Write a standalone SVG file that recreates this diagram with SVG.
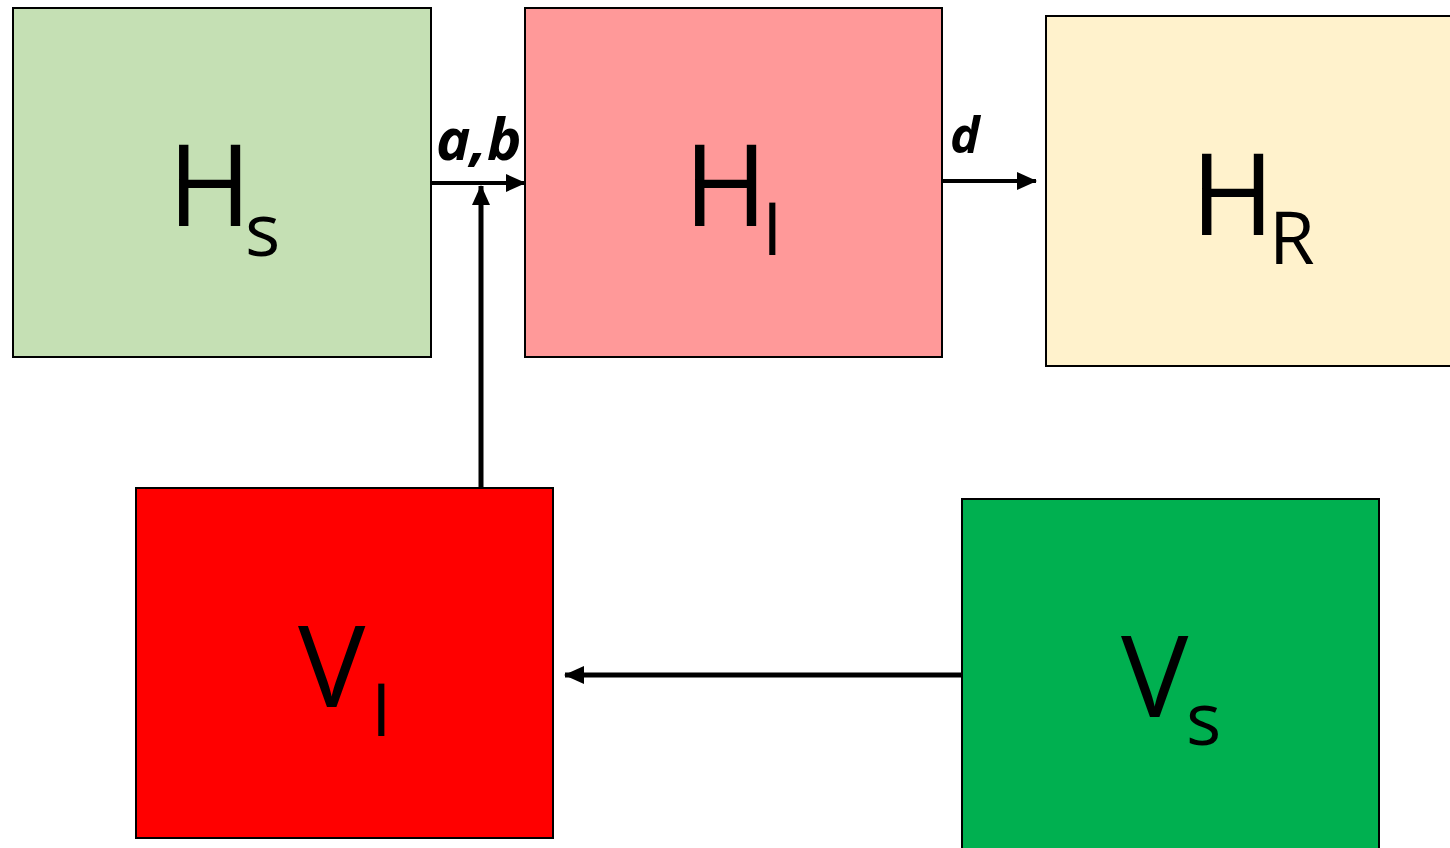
<svg xmlns="http://www.w3.org/2000/svg" width="1450" height="848" viewBox="0 0 1450 848">
  <style>
    .box { stroke: #000; stroke-width: 2; }
    .main { font-family: "Open Sans", "Liberation Sans", sans-serif; font-size: 113px; fill: #000; }
    .sub { font-size: 74px; }
    .rate { font-family: "Open Sans", "Liberation Sans", sans-serif; font-weight: bold; font-style: italic; fill: #000; }
    .link { stroke: #000; fill: none; }
  </style>
  <defs>
    <marker id="head" markerUnits="userSpaceOnUse" markerWidth="20" markerHeight="19" viewBox="0 0 20 19" refX="19" refY="9.5" orient="auto">
      <path d="M0,0.5 L20,9.5 L0,18.5 Z" fill="#000"/>
    </marker>
  </defs>

  <rect width="1450" height="848" fill="#fff"/>

  <!-- hosts: susceptible, infected, recovered -->
  <g id="node-hs">
    <rect class="box" x="13" y="8" width="418" height="349" fill="#C5E0B4"/>
    <text class="main" x="168" y="226">H<tspan class="sub" x="245" y="256">s</tspan></text>
  </g>
  <g id="node-hi">
    <rect class="box" x="525" y="8" width="417" height="349" fill="#FF9999"/>
    <text class="main" x="684" y="226">H<tspan class="sub" x="762" y="255">I</tspan></text>
  </g>
  <g id="node-hr">
    <rect class="box" x="1046" y="16" width="420" height="350" fill="#FFF2CC"/>
    <text class="main" x="1191" y="235">H<tspan class="sub" x="1269" y="264">R</tspan></text>
  </g>

  <!-- vectors: infected, susceptible -->
  <g id="node-vi">
    <rect class="box" x="136" y="488" width="417" height="350" fill="#FF0000"/>
    <text class="main" x="298" y="707">V<tspan class="sub" x="371" y="736">I</tspan></text>
  </g>
  <g id="node-vs">
    <rect class="box" x="962" y="499" width="417" height="360" fill="#00B050"/>
    <text class="main" x="1121" y="717">V<tspan class="sub" x="1186" y="745">s</tspan></text>
  </g>

  <!-- transitions -->
  <g id="connectors">
    <line class="link" x1="431" y1="183" x2="525" y2="183" stroke-width="4" marker-end="url(#head)"/>
    <line class="link" x1="942" y1="181" x2="1036" y2="181" stroke-width="4" marker-end="url(#head)"/>
    <line class="link" x1="481" y1="488" x2="481" y2="186" stroke-width="5" marker-end="url(#head)"/>
    <line class="link" x1="962" y1="675" x2="565" y2="675" stroke-width="5" marker-end="url(#head)"/>
    <text class="rate" x="436" y="160" font-size="58">a,b</text>
    <text class="rate" x="950" y="153" font-size="50">d</text>
  </g>
</svg>
